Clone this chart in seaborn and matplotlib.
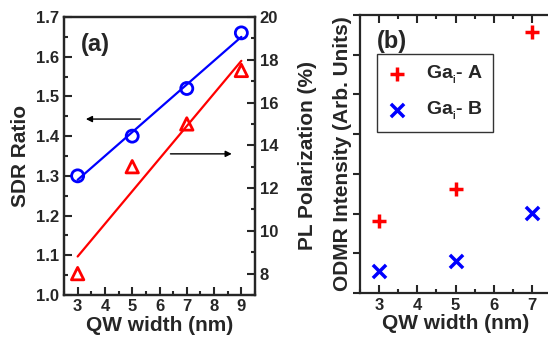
import numpy as np
import pandas as pd
import matplotlib.pyplot as plt
import seaborn as sns
from matplotlib.ticker import MultipleLocator, NullFormatter

# panel (a)
qw_a = [3, 5, 7, 9]
sdr_ratio = [1.30, 1.40, 1.52, 1.66]
pl_pol = [8.0, 13.0, 15.0, 17.5]

# panel (b)
qw_b = [3, 5, 7]
odmr_a = [1.81, 2.62, 6.57]
odmr_b = [0.55, 0.81, 2.01]

sns.set_style("ticks")
plt.rcParams['font.family'] = ['Liberation Sans', 'DejaVu Sans']
plt.rcParams['font.weight'] = 'bold'
plt.rcParams['axes.labelweight'] = 'bold'
plt.rcParams['mathtext.fontset'] = 'custom'
plt.rcParams['mathtext.rm'] = 'Liberation Sans:bold'
plt.rcParams['mathtext.bf'] = 'Liberation Sans:bold'

W, H = 548, 338
fig = plt.figure(figsize=(W / 100, H / 100), dpi=100)

df_a = pd.DataFrame({'qw': qw_a, 'sdr': sdr_ratio, 'pl': pl_pol})

ax = fig.add_axes([64 / W, 1 - 295 / H, (255 - 64) / W, (295 - 17) / H])
ax2 = ax.twinx()

sns.regplot(data=df_a, x='qw', y='sdr', ax=ax, scatter=False, ci=None,
            color='blue', line_kws=dict(lw=1.6))
sns.scatterplot(data=df_a, x='qw', y='sdr', ax=ax, marker='o', s=75,
                facecolor='none', edgecolor='blue', linewidth=2, zorder=5)
sns.regplot(data=df_a, x='qw', y='pl', ax=ax2, scatter=False, ci=None,
            color='red', line_kws=dict(lw=1.6))
sns.scatterplot(data=df_a, x='qw', y='pl', ax=ax2, marker='^', s=80,
                facecolor='none', edgecolor='red', linewidth=2, zorder=5)

ax.set_xlim(2.5, 9.5)
ax.set_ylim(1.0, 1.7)
ax2.set_ylim(7, 20)
ax.xaxis.set_major_locator(MultipleLocator(1))
ax.xaxis.set_minor_locator(MultipleLocator(0.5))
ax.yaxis.set_major_locator(MultipleLocator(0.1))
ax.yaxis.set_minor_locator(MultipleLocator(0.05))
ax2.yaxis.set_minor_locator(MultipleLocator(1))
ax2.set_yticks(range(8, 21, 2))

ax.set_xlabel('QW width (nm)', fontsize=15, labelpad=1)
ax.set_ylabel('SDR Ratio', fontsize=15, labelpad=4)
ax2.set_ylabel('PL Polarization (%)', fontsize=15, labelpad=14)

ax.annotate('', xy=(3.2, 1.443), xytext=(5.4, 1.443),
            arrowprops=dict(arrowstyle='-|>', color='black', lw=1, mutation_scale=9))
ax2.annotate('', xy=(8.75, 13.6), xytext=(6.3, 13.6),
             arrowprops=dict(arrowstyle='-|>', color='black', lw=1, mutation_scale=9))
ax.text(0.09, 0.9, '(a)', transform=ax.transAxes, fontsize=17,
        fontweight='bold', va='center')

for a in (ax, ax2):
    a.tick_params(which='major', direction='in', length=6, width=1.5, labelsize=12)
    a.tick_params(which='minor', direction='in', length=3, width=1.5)
    for s in a.spines.values():
        s.set_linewidth(1.6)
        s.set_visible(True)
ax.tick_params(axis='x', pad=3)

# panel (b)
bx = fig.add_axes([360 / W, 1 - 293 / H, (551 - 360) / W, (293 - 15) / H])
sns.scatterplot(x=qw_b, y=odmr_a, ax=bx, marker='+', s=110, color='red',
                linewidth=2.5, label=r'Ga$_{_\mathregular{i}}$- A')
sns.scatterplot(x=qw_b, y=odmr_b, ax=bx, marker='x', s=90, color='blue',
                linewidth=2.5, label=r'Ga$_{_\mathregular{i}}$- B')
bx.set_xlim(2.5, 7.5)
bx.set_ylim(0, 7)
bx.xaxis.set_major_locator(MultipleLocator(1))
bx.xaxis.set_minor_locator(MultipleLocator(0.5))
bx.yaxis.set_major_locator(MultipleLocator(1))
bx.yaxis.set_major_formatter(NullFormatter())
bx.tick_params(axis='x', which='major', direction='in', length=6, width=1.5,
               labelsize=12, top=True)
bx.tick_params(axis='x', which='minor', direction='in', length=3, width=1.5, top=True)
bx.tick_params(axis='y', which='major', direction='out', length=5, width=1.5)
for s in bx.spines.values():
    s.set_linewidth(1.6)
    s.set_visible(True)
bx.set_xlabel('QW width (nm)', fontsize=15, labelpad=1)
bx.set_ylabel('ODMR Intensity (Arb. Units)', fontsize=15, labelpad=-3)
bx.text(0.09, 0.905, '(b)', transform=bx.transAxes, fontsize=17,
        fontweight='bold', va='center')
leg = bx.legend(loc='upper left', bbox_to_anchor=(0.04, 0.895), fontsize=14,
                frameon=True, fancybox=False, edgecolor='black',
                handletextpad=1.0, borderpad=0.5, labelspacing=0.7,
                handlelength=1.0)
leg.get_frame().set_linewidth(1.0)

fig.savefig('out.png', dpi=100)
